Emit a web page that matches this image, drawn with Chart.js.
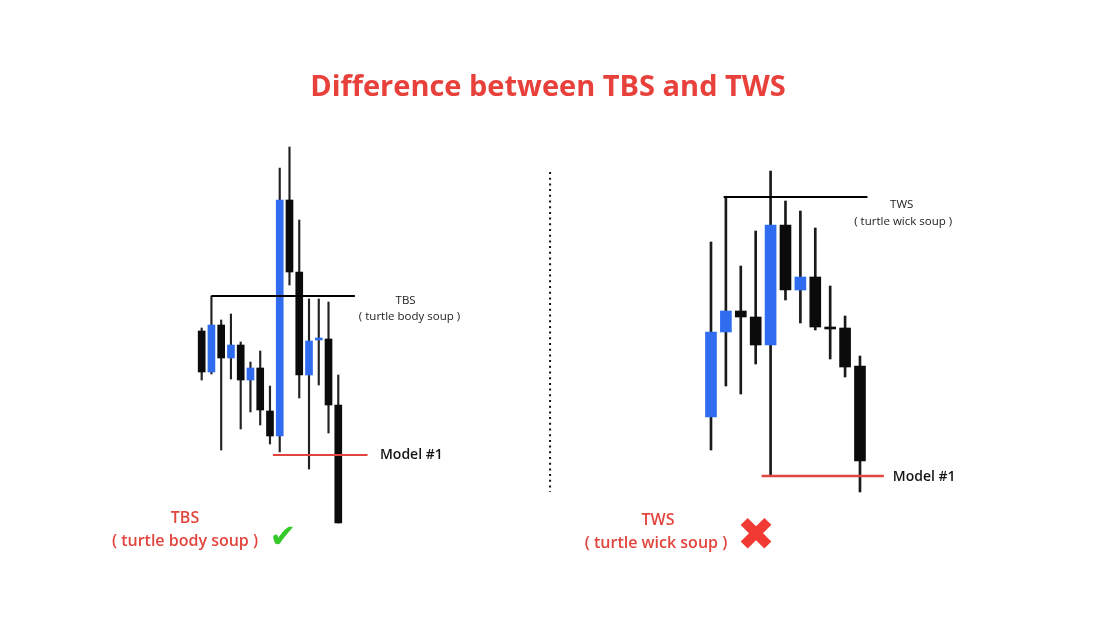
<!DOCTYPE html>
<html>
<head>
<meta charset="utf-8">
<script src="https://cdn.jsdelivr.net/npm/chart.js@4.4.1/dist/chart.umd.min.js"></script>
<style>
  html, body { margin: 0; padding: 0; background: #ffffff; }
  #wrap { position: relative; width: 1100px; height: 619px; }
</style>
</head>
<body>
<div id="wrap"><canvas id="chart" width="1100" height="619"></canvas></div>
<script>
// DATOS: precios (unidades arbitrarias)

// grafico izquierdo (TBS)
const tbsOpen  = [169, 128, 175, 142, 155, 120, 132, 89, 64, 300, 228, 125, 160, 161, 95];
const tbsClose = [128, 175, 142, 155, 120, 132, 90, 64, 300, 228, 125, 159, 162, 95, -23];
const tbsHigh  = [172, 204, 180, 186, 158, 138, 149, 114, 332, 353, 280, 201, 201, 198, 125];
const tbsLow   = [120, 126, 50, 121, 71, 88, 75, 56, 48, 215, 102, 31, 115, 67, -23];
const tbsLevel = [{ x: 1, y: 204 }, { x: 15.7, y: 204 }];
const tbsModel = [{ x: 7.3, y: 45 }, { x: 17, y: 45 }];

// grafico derecho (TWS)
const twsOpen  = [83, 168, 189, 183, 155, 275, 210, 223, 173, 172, 134];
const twsClose = [168, 189, 183, 155, 275, 210, 223, 173, 171, 133, 39];
const twsHigh  = [258, 303, 234, 269, 329, 299, 289, 272, 214, 184, 144];
const twsLow   = [50, 114, 106, 136, 24, 200, 177, 170, 141, 123, 8];
const twsLevel = [{ x: 0.85, y: 303 }, { x: 10.5, y: 303 }];
const twsModel = [{ x: 3.4, y: 24 }, { x: 11.6, y: 24 }];

// separador punteado
const divider = [{ x: -10.8, y: 328 }, { x: -10.8, y: 8 }];

const BLUE = '#2f6cf0';
const BLACK = '#0b0b0b';
const RED = '#e2453d';

// cuerpo de cada vela, con un minimo para los doji
const bodies = (open, close) => open.map((o, i) => {
    let c = close[i];
    if (Math.abs(c - o) < 2) c = o + (c >= o ? 2 : -2);
    return { x: i, y: [o, c] };
});
const wicks = (high, low) => high.map((h, i) => ({ x: i, y: [low[i], h] }));
const colors = (open, close) => open.map((o, i) => close[i] > o ? BLUE : BLACK);

// textos que acompanan las lineas
const notes = [
    { axis: 'xL', x: 18.27, y: 45, text: 'Model #1', font: '600 14px "Open Sans"', color: '#151515', align: 'left' },
    { axis: 'xL', x: 20.9, y: 199, text: 'TBS', font: '500 11.5px "Open Sans"', color: '#222', align: 'center' },
    { axis: 'xL', x: 21.3, y: 183, text: '( turtle body soup )', font: '500 11.5px "Open Sans"', color: '#222', align: 'center' },
    { axis: 'xR', x: 12.2, y: 23.3, text: 'Model #1', font: '600 14px "Open Sans"', color: '#151515', align: 'left' },
    { axis: 'xR', x: 12.8, y: 295, text: 'TWS', font: '500 11.5px "Open Sans"', color: '#222', align: 'center' },
    { axis: 'xR', x: 12.9, y: 278, text: '( turtle wick soup )', font: '500 11.5px "Open Sans"', color: '#222', align: 'center' }
];

// plugin para escribir el titulo y las etiquetas
const textPlugin = {
    id: 'textos',
    afterDraw(chart) {
        const c = chart.ctx;
        c.save();
        c.textBaseline = 'middle';
        notes.forEach(n => {
            c.font = n.font;
            c.fillStyle = n.color;
            c.textAlign = n.align;
            c.fillText(n.text, chart.scales[n.axis].getPixelForValue(n.x), chart.scales.y.getPixelForValue(n.y));
        });

        c.textAlign = 'center';
        c.fillStyle = '#e8403b';
        c.font = 'bold 29px "Open Sans"';
        c.fillText('Difference between TBS and TWS', 548, 88);

        c.fillStyle = RED;
        c.font = '600 16px "Open Sans"';
        c.fillText('TBS', 185, 518);
        c.fillText('( turtle body soup )', 185, 541);
        c.fillText('TWS', 658, 520);
        c.fillText('( turtle wick soup )', 656, 543);

        c.font = '32px "DejaVu Sans"';
        c.fillStyle = '#36c92a';
        c.fillText('\u2714', 283, 539);
        c.font = '46px "DejaVu Sans"';
        c.fillStyle = '#f03a33';
        c.fillText('\u2716', 756, 538);
        c.restore();
    }
};

const lineSet = (data, axis, color, width) => ({
    type: 'line', data: data, xAxisID: axis, borderColor: color, borderWidth: width,
    pointRadius: 0, order: 0
});

new Chart(document.getElementById('chart'), {
    type: 'bar',
    data: {
        datasets: [
            lineSet(tbsLevel, 'xL', '#000', 2),
            lineSet(tbsModel, 'xL', RED, 2),
            lineSet(twsLevel, 'xR', '#000', 2),
            lineSet(twsModel, 'xR', RED, 2.5),
            Object.assign(lineSet(divider, 'xR', '#111', 2), { borderDash: [2, 3.7] }),
            { data: bodies(tbsOpen, tbsClose), xAxisID: 'xL', backgroundColor: colors(tbsOpen, tbsClose), barThickness: 7, grouped: false, order: 1 },
            { data: wicks(tbsHigh, tbsLow), xAxisID: 'xL', backgroundColor: '#222', barThickness: 1.5, grouped: false, order: 2 },
            { data: bodies(twsOpen, twsClose), xAxisID: 'xR', backgroundColor: colors(twsOpen, twsClose), barThickness: 11, grouped: false, order: 1 },
            { data: wicks(twsHigh, twsLow), xAxisID: 'xR', backgroundColor: '#1a1a1a', barThickness: 2, grouped: false, order: 2 }
        ]
    },
    options: {
        responsive: false,
        animation: false,
        events: [],
        layout: { padding: 0 },
        plugins: { legend: { display: false }, tooltip: { enabled: false } },
        scales: {
            xL: { type: 'linear', display: false, offset: false, min: -20.67, max: 92.07 },
            xR: { type: 'linear', display: false, offset: false, min: -47.72, max: 26.11 },
            y: { type: 'linear', display: false, min: -119, max: 500 }
        }
    },
    plugins: [textPlugin]
});
</script>
</body>
</html>
